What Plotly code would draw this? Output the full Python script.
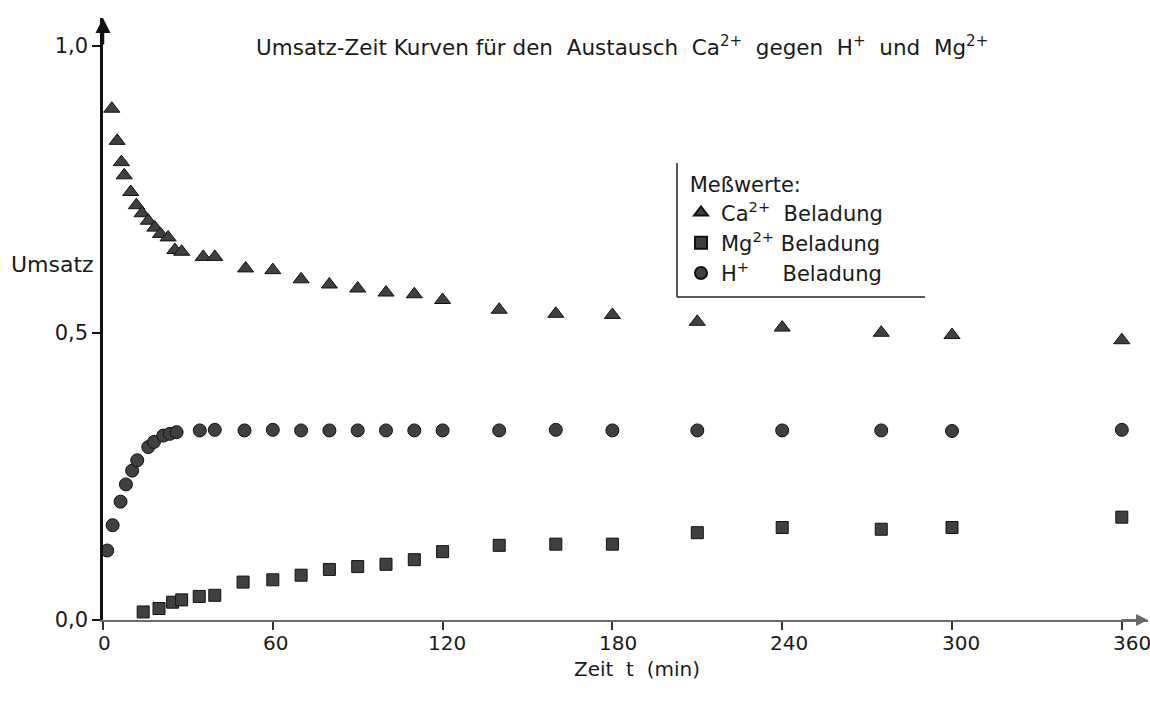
import plotly.graph_objects as go

# ---- data ----
ca_t = [3.1, 5.0, 6.5, 7.5, 9.8, 11.8, 13.8, 16.0, 18.3, 20.3, 23.0, 25.4, 27.8, 35.4, 39.5, 50.4,
        60, 70, 80, 90, 100, 110, 120, 140, 160, 180, 210, 240, 275, 300, 360]
ca_v = [0.890, 0.834, 0.797, 0.774, 0.745, 0.722, 0.708, 0.695, 0.683, 0.672, 0.666, 0.644, 0.641,
        0.632, 0.632, 0.612, 0.609, 0.593, 0.584, 0.577, 0.570, 0.567, 0.557, 0.540, 0.533, 0.531,
        0.519, 0.509, 0.500, 0.496, 0.487]

h_t = [1.5, 3.4, 6.2, 8.1, 10.3, 12.1, 16.0, 18.0, 21.3, 23.6, 26.0, 34.2, 39.5, 50,
       60, 70, 80, 90, 100, 110, 120, 140, 160, 180, 210, 240, 275, 300, 360]
h_v = [0.121, 0.165, 0.206, 0.236, 0.260, 0.278, 0.301, 0.310, 0.321, 0.324, 0.327, 0.330, 0.331,
       0.330, 0.331, 0.330, 0.330, 0.330, 0.330, 0.330, 0.330, 0.330, 0.331, 0.330, 0.330, 0.330,
       0.330, 0.329, 0.331]

mg_t = [14.2, 19.8, 24.6, 27.8, 34.0, 39.5, 49.5, 60, 70, 80, 90, 100, 110, 120, 140, 160, 180,
        210, 240, 275, 300, 360]
mg_v = [0.014, 0.020, 0.031, 0.035, 0.041, 0.043, 0.066, 0.070, 0.078, 0.088, 0.093, 0.097, 0.105,
        0.119, 0.130, 0.132, 0.132, 0.152, 0.161, 0.158, 0.161, 0.179]

x_ticks = [0, 60, 120, 180, 240, 300, 360]
x_ticklabels = ["0", "60", "120", "180", "240", "300", "360"]
y_ticks = [0.0, 0.5, 1.0]
y_ticklabels = ["0,0", "0,5", "1,0"]

title_text = ("Umsatz-Zeit Kurven für den  Austausch  Ca<sup>2+</sup>  gegen  H<sup>+</sup>"
              "  und  Mg<sup>2+</sup>")
x_title = "Zeit  t  (min)"
y_title = "Umsatz"
legend_title = "\u00a0Meßwerte:"
names = ["Ca<sup>2+</sup>  Beladung", "Mg<sup>2+</sup> Beladung",
         "H<sup>+</sup>\u00a0\u00a0\u00a0\u00a0 Beladung"]

FONT = "DejaVu Sans"
FILL = "#404040"
EDGE = "#111111"
TXT = "#1a1a1a"

# ---- geometry (pixels) ----
W, H = 1150, 702
ML, MR, MT, MB = 103, 2, 18, 82
PX_PER_MIN = 2.83
X_MAX = (W - ML - MR) / PX_PER_MIN
PX_PER_UNIT = 574.5
Y_MAX = (H - MT - MB) / PX_PER_UNIT
LABEL_PX_PER_MIN = 2.855   # printed tick labels drift slightly right of the ticks


def px_x(p):
    return (p - ML) / (W - ML - MR)


def px_y(p):
    return (H - MB - p) / (H - MT - MB)


fig = go.Figure()
fig.add_trace(go.Scatter(x=ca_t, y=ca_v, mode="markers", name=names[0],
                         marker=dict(symbol="triangle-up", size=14, color=FILL,
                                     line=dict(color=EDGE, width=1))))
fig.add_trace(go.Scatter(x=mg_t, y=mg_v, mode="markers", name=names[1],
                         marker=dict(symbol="square", size=12, color=FILL,
                                     line=dict(color=EDGE, width=1))))
fig.add_trace(go.Scatter(x=h_t, y=h_v, mode="markers", name=names[2],
                         marker=dict(symbol="circle", size=13, color=FILL,
                                     line=dict(color=EDGE, width=1))))

fig.update_layout(
    width=W, height=H,
    margin=dict(l=ML, r=MR, t=MT, b=MB),
    paper_bgcolor="white", plot_bgcolor="white",
    font=dict(family=FONT, size=21, color=TXT),
    showlegend=True,
    legend=dict(
        title=dict(text=legend_title, font=dict(size=21)),
        x=px_x(681), y=px_y(165), xanchor="left", yanchor="top",
        bgcolor="rgba(0,0,0,0)", borderwidth=0,
        font=dict(size=21), itemsizing="constant",
    ),
    xaxis=dict(range=[0, X_MAX], tickvals=x_ticks, showticklabels=False,
               showline=True, linecolor="#6a6a6a", linewidth=2,
               ticks="outside", ticklen=8, tickwidth=1.5, tickcolor="#333",
               showgrid=False, zeroline=False),
    yaxis=dict(range=[0, Y_MAX], tickvals=y_ticks, ticktext=y_ticklabels,
               showline=True, linecolor="#111", linewidth=2.5,
               ticks="outside", ticklen=8, tickwidth=1.5, tickcolor="#111",
               showgrid=False, zeroline=False, tickfont=dict(size=21)),
)

annotations = [
    dict(text=title_text, x=px_x(622), y=px_y(46), xref="paper", yref="paper",
         showarrow=False, font=dict(size=21.5), xanchor="center", yanchor="middle"),
    dict(text=x_title, x=px_x(637), y=px_y(669), xref="paper", yref="paper",
         showarrow=False, font=dict(size=20), xanchor="center", yanchor="middle"),
    dict(text=y_title, x=px_x(52), y=px_y(264), xref="paper", yref="paper",
         showarrow=False, font=dict(size=22), xanchor="center", yanchor="middle"),
    # axis arrowheads
    dict(x=1, y=0, xref="paper", yref="paper", ax=-28, ay=0, text="", showarrow=True,
         arrowhead=2, arrowsize=1.2, arrowwidth=2, arrowcolor="#6a6a6a"),
    dict(x=0, y=1, xref="paper", yref="paper", ax=0, ay=28, text="", showarrow=True,
         arrowhead=2, arrowsize=1.2, arrowwidth=2.5, arrowcolor="#111"),
]
for t, lab in zip(x_ticks, x_ticklabels):
    annotations.append(dict(text=lab, x=px_x(104 + t * LABEL_PX_PER_MIN), y=px_y(643),
                            xref="paper", yref="paper", showarrow=False,
                            font=dict(size=20), xanchor="center", yanchor="middle"))
fig.update_layout(annotations=annotations)

# legend box: left and bottom border only
fig.add_shape(type="line", xref="paper", yref="paper",
              x0=px_x(677), x1=px_x(677), y0=px_y(163), y1=px_y(297),
              line=dict(color="#222", width=1.5))
fig.add_shape(type="line", xref="paper", yref="paper",
              x0=px_x(677), x1=px_x(925), y0=px_y(297), y1=px_y(297),
              line=dict(color="#222", width=1.5))

fig.write_html("out.html")
